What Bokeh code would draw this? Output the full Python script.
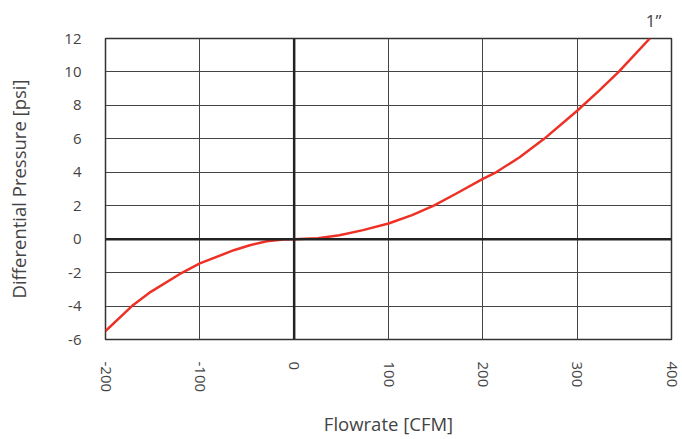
import math
from bokeh.plotting import figure
from bokeh.models import FixedTicker, Span, Title, ColumnDataSource
from bokeh.embed import file_html
from bokeh.resources import INLINE

# data
flow_cfm = [-200, -172, -152, -119, -100, -64, -47, -29, -12, 0, 25, 48, 73, 100, 125, 148, 171,
            200, 214, 239, 265, 300, 323, 344, 377]
dp_psi = [-5.49, -4.0, -3.15, -2.01, -1.45, -0.66, -0.36, -0.12, -0.02, 0.0, 0.06, 0.24, 0.54, 0.94,
          1.44, 2.0, 2.7, 3.6, 4.0, 4.9, 6.0, 7.68, 8.87, 10.0, 12.0]
x_ticks = [-200, -100, 0, 100, 200, 300, 400]
y_ticks = [-6, -4, -2, 0, 2, 4, 6, 8, 10, 12]
series_label = "1\u201d"

FONT = "Open Sans"
TXT = "#444444"

p = figure(width=682, height=439, output_backend="svg", toolbar_location=None,
           x_range=(-200, 400), y_range=(-6, 12),
           min_border_left=105, min_border_top=38, min_border_right=11, min_border_bottom=99)
p.background_fill_color = "white"
p.border_fill_color = "white"
p.outline_line_color = "#333333"
p.outline_line_width = 1.5

for ax in (p.xaxis[0], p.yaxis[0]):
    ax.axis_line_color = None
    ax.major_tick_line_color = None
    ax.minor_tick_line_color = None
    ax.major_tick_out = 0
    ax.major_tick_in = 0
    ax.major_label_text_font = FONT
    ax.major_label_text_font_size = "15px"
    ax.major_label_text_color = TXT
    ax.axis_label_text_font = FONT
    ax.axis_label_text_font_size = "18.5px"
    ax.axis_label_text_font_style = "normal"
    ax.axis_label_text_color = TXT

p.xaxis.ticker = FixedTicker(ticks=x_ticks)
p.yaxis.ticker = FixedTicker(ticks=y_ticks)
p.xaxis.major_label_overrides = {t: str(t) for t in x_ticks}
p.yaxis.major_label_overrides = {t: str(t) for t in y_ticks}
p.xaxis.major_label_orientation = -math.pi / 2
p.xaxis.major_label_standoff = 22
p.yaxis.major_label_standoff = 24
p.xaxis.axis_label = "Flowrate [CFM]"
p.yaxis.axis_label = "Differential Pressure [psi]"
p.xaxis.axis_label_standoff = 16
p.yaxis.axis_label_standoff = 30

p.xgrid.ticker = FixedTicker(ticks=x_ticks)
p.ygrid.ticker = FixedTicker(ticks=y_ticks)
p.grid.grid_line_color = "#444444"
p.grid.grid_line_width = 1
p.grid.grid_line_alpha = 1.0

p.add_layout(Span(location=0, dimension="height", line_color="#222222", line_width=2.5))
p.add_layout(Span(location=0, dimension="width", line_color="#222222", line_width=2.5))

src = ColumnDataSource(data=dict(x=flow_cfm, y=dp_psi))
p.line("x", "y", source=src, line_color="#ee3126", line_width=2.5)

p.add_layout(Title(text=series_label, align="right", offset=10, standoff=10,
                   vertical_align="top",
                   text_font=FONT, text_font_size="17px", text_font_style="normal",
                   text_color=TXT), "above")

open("out.html", "w").write(file_html(p, INLINE))
